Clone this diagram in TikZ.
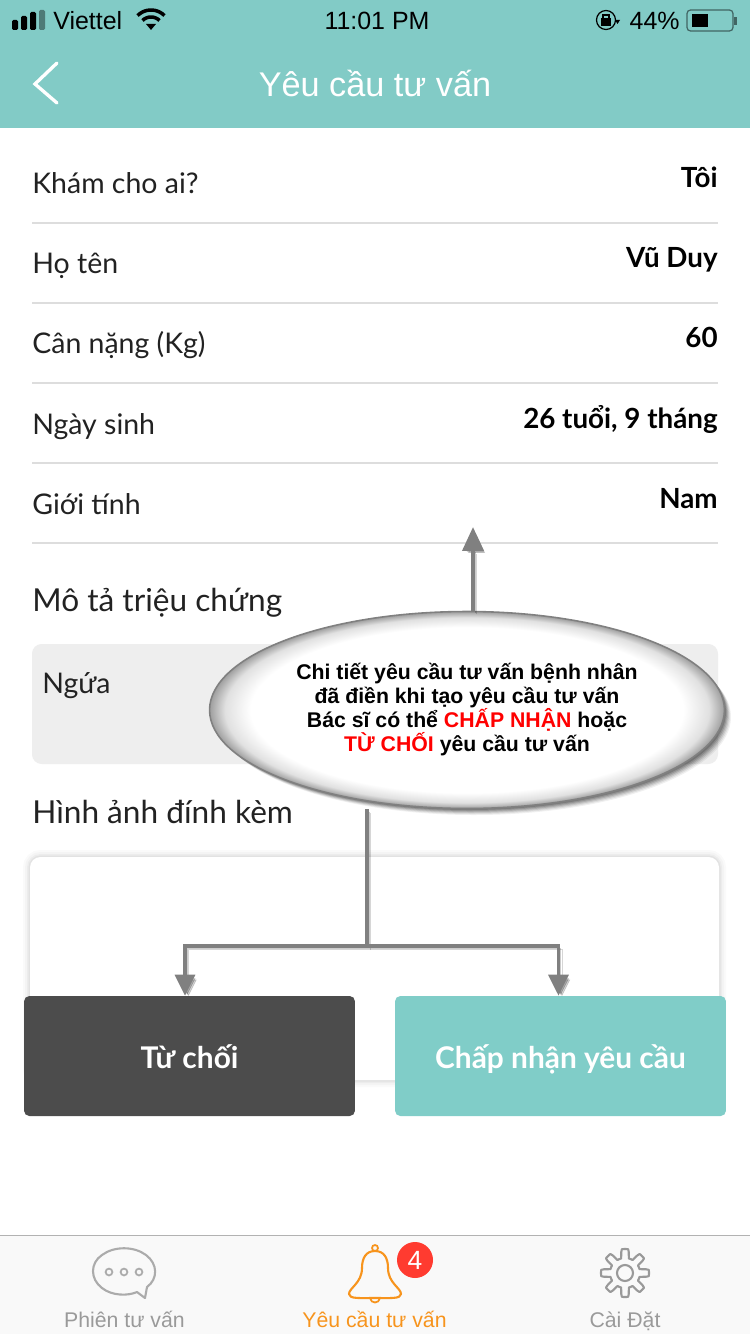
\documentclass[tikz,border=0pt]{standalone}
\usepackage{fontspec}
\setmainfont{Lato}
\newfontfamily\uifont{Liberation Sans}
\usetikzlibrary{arrows.meta,shapes.geometric,positioning}
\definecolor{teal0}{HTML}{82CBC6}
\definecolor{teal1}{HTML}{80CDC8}
\definecolor{rule0}{HTML}{DDDDDD}
\definecolor{ink0}{HTML}{222222}
\definecolor{amber0}{HTML}{F7941D}
\definecolor{tabgray}{HTML}{9A9A9A}
\definecolor{badge0}{HTML}{FF3B30}
\pgfdeclareradialshading{rimshade}{\pgfpoint{0bp}{0bp}}{color(0bp)=(white);color(21bp)=(white);color(23.5bp)=(black!12);color(25bp)=(black!38);color(50bp)=(black!38)}

\begin{document}
\begin{tikzpicture}[x=0.02cm,y=-0.02cm,
  rowkey/.style={anchor=base west,inner sep=0pt,text=ink0,font=\fontsize{16.2}{19}\selectfont},
  rowval/.style={anchor=base east,inner sep=0pt,text=black,font=\fontsize{15.8}{19}\selectfont\bfseries},
  headkey/.style={anchor=base west,inner sep=0pt,text=ink0,font=\fontsize{18}{22}\selectfont},
  btn/.style={draw=none,fill=#1,rounded corners=3pt,minimum width=6.62cm,minimum height=2.4cm,text height=0.48cm,text depth=0cm,text=white,font=\fontsize{17}{20}\selectfont\bfseries},
  tab/.style={anchor=base,inner sep=0pt,text=#1,font=\uifont\fontsize{12.1}{14}\selectfont},
  statustxt/.style={inner sep=0pt,text=black,font=\uifont\fontsize{14.2}{16}\selectfont},
  conn/.style={draw=gray,line width=#1,preaction={draw=black,opacity=.16,transform canvas={shift={(2pt,-2pt)}}},preaction={draw=black,opacity=.2,transform canvas={shift={(1.3pt,-1.3pt)}}}},
  tipdown/.style={-{Triangle[length=0.42cm,width=0.4cm]}}]
  \useasboundingbox (0,0) rectangle (750,1334);
  \fill[white] (0,0) rectangle (750,1334);
  % ---- header
  \fill[teal0] (0,0) rectangle (750,128);
  \draw[white,line width=1.9pt,line cap=round,line join=miter] (57,63) -- (35,84) -- (57,103);
  \node[inner sep=0pt,text=white,font=\uifont\fontsize{19.5}{23}\selectfont] (title) at (375,84) {Yêu cầu tư vấn};
  % ---- status bar
  \foreach \x/\h in {12/10,21/14,30/18}
    \fill[black,rounded corners=0.8pt] (\x,30) rectangle (\x+6,30-\h);
  \fill[teal0!60!black,rounded corners=0.8pt] (39,10) rectangle (45,30);
  \node[statustxt,anchor=west] (carrier) at (53,21) {Viettel};
  \foreach \r in {12,19}
    \draw[black,line width=2pt,domain=45:135,samples=12] plot ({151+\r*cos(\x)},{29-\r*sin(\x)});
  \fill[black] (151,30) -- (146,24) -- (156,24) -- cycle;
  \node[statustxt] (clock) at (377,21) {11:01 PM};
  \draw[black,line width=0.7pt] (606,20) circle (9.5);
  \fill[black] (615,20) -- (620,20) -- (617.5,24) -- cycle;
  \fill[black] (601,18) rectangle (611,26);
  \draw[black,line width=0.6pt] (603,18) -- (603,15) -- (609,15) -- (609,18);
  \node[statustxt,anchor=east] (charge) at (680,21) {44\%};
  \draw[teal0!50!black,line width=0.7pt,rounded corners=2pt] (687,10) rectangle (733,31);
  \fill[black] (692,14) rectangle (708,27);
  \fill[teal0!50!black] (734,17) rectangle (737,25);
  % ---- rows
  \foreach \y/\a/\b [count=\i] in {184/Khám cho ai?/Tôi,264/Họ tên/Vũ Duy,344/Cân nặng (Kg)/60,424/Ngày sinh/{26 tuổi, 9 tháng},504/Giới tính/Nam}{
    \node[rowkey] (key\i) at (32,\y+10) {\a};
    \node[rowval] (val\i) at (718,\y+4) {\b};
    \draw[rule0,line width=1pt] (32,\y+39) -- (718,\y+39);
  }
  % ---- symptoms
  \node[headkey] (symptoms) at (32,611) {Mô tả triệu chứng};
  \fill[black!6.5,rounded corners=5.5pt] (32,644) rectangle (718,764);
  \node[rowkey] (itch) at (42,693) {Ngứa};
  % ---- attachments
  \node[headkey] (photos) at (32,823) {Hình ảnh đính kèm};
  \foreach \w/\o in {14/.02,10/.025,6/.03,3/.04}
    \draw[black,opacity=\o,line width=\w*0.02cm,rounded corners=6pt] (30,857) rectangle (719,1080);
  \fill[white,rounded corners=6pt] (30,857) rectangle (719,1080);
  \node[btn=black!70] (refuse) at (189.5,1056) {Từ chối};
  \node[btn=teal1] (accept) at (560.5,1056) {Chấp nhận yêu cầu};
  % ---- tab bar
  \fill[black!2.5] (0,1235) rectangle (750,1334);
  \draw[black!30,line width=1pt] (0,1235.5) -- (750,1235.5);
  \draw[black!33,line width=1.2pt,line join=round] (137,1292) .. controls (128,1296) and (112,1296) .. (102,1288)
    .. controls (90,1279) and (90,1263) .. (102,1255) .. controls (114,1246) and (134,1246) .. (146,1255)
    .. controls (158,1264) and (158,1279) .. (147,1287) -- (145,1298) -- cycle;
  \foreach \x in {109,124,139}
    \draw[black!33,line width=1pt] (\x,1272) circle (3.4);
  \node[tab=tabgray] (tab1) at (124.5,1327) {Phiên tư vấn};
  \draw[amber0,line width=1.2pt,line join=round] (375,1251)
    .. controls (366,1251) and (362,1258) .. (362,1268) .. controls (362,1283) and (349,1288) .. (349,1294)
    .. controls (349,1299) and (360,1298) .. (375,1298) .. controls (390,1298) and (401,1299) .. (401,1294)
    .. controls (401,1288) and (388,1283) .. (388,1268) .. controls (388,1258) and (384,1251) .. (375,1251);
  \draw[amber0,line width=1pt] (375,1248) circle (3);
  \draw[amber0,line width=1pt] (370,1298) .. controls (371,1304) and (379,1304) .. (380,1298);
  \node[circle,fill=badge0,text=white,inner sep=0pt,minimum size=0.72cm,font=\uifont\fontsize{15}{17}\selectfont] (badge) at (415,1260) {4};
  \node[tab=amber0] (tab2) at (374.5,1327) {Yêu cầu tư vấn};
  \draw[black!40,line width=1.2pt,line join=round,shift={(625,1273)}] plot[domain=0:360,samples=145] (\x:{19.5+4.5*max(-1,min(1,2.5*cos(8*\x)))}) -- cycle;
  \draw[black!40,line width=1.2pt] (625,1273) circle (8);
  \node[tab=tabgray] (tab3) at (625,1327) {Cài Đặt};
  % ---- callout
  \foreach \s/\o in {7/.06,6/.08,5/.1,4/.12,3/.14,2/.16}
    \fill[black,opacity=\o] (467+\s,710+\s) ellipse (257 and 98);
  \node[ellipse,draw=gray,line width=0.9pt,shading=rimshade,minimum width=10.3cm,minimum height=3.94cm,inner sep=0pt,
    align=center,font=\uifont\fontsize{12.1}{13.66}\selectfont\bfseries] (callout) at (467,710)
    {Chi tiết yêu cầu tư vấn bệnh nhân\\đã điền khi tạo yêu cầu tư vấn\\Bác sĩ có thể \textcolor{red}{CHẤP NHẬN} hoặc\\\textcolor{red}{TỪ CHỐI} yêu cầu tư vấn};
  % ---- arrows
  \coordinate (note) at (473,527);
  \coordinate (fork) at (367,946);
  \draw[conn=2.2pt,-{Triangle[length=0.48cm,width=0.42cm]}] (note |- callout.north) -- (note);
  \draw[conn=1.9pt] (fork |- callout.south) -- (fork);
  \draw[conn=1.9pt,tipdown] (fork) -| ([xshift=-0.09cm]refuse.north);
  \draw[conn=1.9pt,tipdown] (fork) -| ([xshift=-0.04cm]accept.north);
\end{tikzpicture}
\end{document}
